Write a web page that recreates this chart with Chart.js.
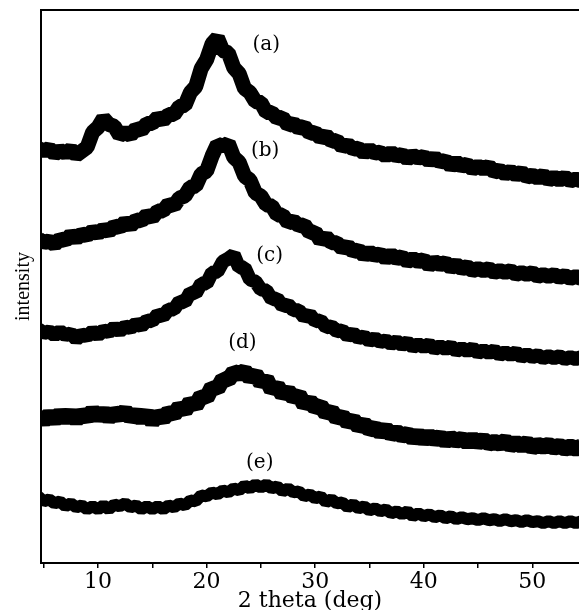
<!DOCTYPE html>
<html>
<head>
<meta charset="utf-8">
<script src="https://cdn.jsdelivr.net/npm/chart.js@4.4.1/dist/chart.umd.min.js"></script>
<style>
  html, body { margin: 0; padding: 0; background: #fff; }
  #wrap { width: 579px; height: 610px; position: relative; }
</style>
</head>
<body>
<div id="wrap"><canvas id="xrd-chart"></canvas></div>
<script>
// 2 theta sampling (deg)
const twoTheta = [
  4.5, 5, 5.5, 6, 6.5, 7, 7.5, 8, 8.5, 9,
  9.5, 10, 10.5, 11, 11.5, 12, 12.5, 13, 13.5, 14,
  14.5, 15, 15.5, 16, 16.5, 17, 17.5, 18, 18.5, 19,
  19.5, 20, 20.5, 21, 21.5, 22, 22.5, 23, 23.5, 24,
  24.5, 25, 25.5, 26, 26.5, 27, 27.5, 28, 28.5, 29,
  29.5, 30, 30.5, 31, 31.5, 32, 32.5, 33, 33.5, 34,
  34.5, 35, 35.5, 36, 36.5, 37, 37.5, 38, 38.5, 39,
  39.5, 40, 40.5, 41, 41.5, 42, 42.5, 43, 43.5, 44,
  44.5, 45, 45.5, 46, 46.5, 47, 47.5, 48, 48.5, 49,
  49.5, 50, 50.5, 51, 51.5, 52, 52.5, 53, 53.5, 54,
  54.5
];

// intensities (stacked, arbitrary units)
const curveA = [
  417, 414, 417, 411, 415, 412, 416, 410, 414, 418,
  433, 438, 447, 441, 439, 430, 433, 430, 437, 435,
  442, 442, 448, 445, 451, 451, 459, 460, 473, 479,
  497, 506, 522, 528, 515, 513, 498, 492, 477, 473,
  464, 463, 453, 453, 447, 448, 440, 442, 437, 439,
  432, 433, 427, 430, 424, 425, 418, 421, 416, 417,
  412, 416, 412, 413, 409, 413, 409, 411, 406, 410,
  407, 409, 404, 408, 403, 405, 399, 403, 399, 401,
  396, 399, 396, 399, 393, 395, 391, 394, 390, 393,
  388, 390, 387, 390, 385, 388, 385, 388, 384, 386,
  384
];
const curveB = [
  326, 322, 324, 320, 326, 324, 330, 326, 331, 329,
  334, 331, 336, 333, 339, 337, 343, 339, 345, 344,
  350, 347, 354, 354, 361, 359, 367, 369, 378, 379,
  391, 394, 409, 421, 419, 422, 408, 403, 389, 385,
  372, 369, 360, 359, 350, 350, 342, 344, 339, 340,
  332, 333, 324, 328, 322, 322, 316, 319, 313, 315,
  309, 313, 309, 311, 306, 310, 306, 308, 303, 306,
  303, 305, 299, 303, 300, 302, 297, 300, 296, 298,
  294, 296, 294, 296, 292, 294, 292, 294, 290, 292,
  290, 292, 288, 290, 288, 290, 287, 289, 286, 288,
  286
];
const curveC = [
  235, 231, 233, 229, 233, 229, 231, 225, 230, 228,
  233, 229, 234, 232, 237, 233, 238, 236, 241, 238,
  244, 243, 250, 248, 255, 255, 263, 262, 272, 271,
  281, 281, 292, 293, 303, 306, 310, 297, 297, 285,
  283, 275, 274, 265, 266, 258, 260, 254, 254, 247,
  250, 243, 244, 237, 238, 233, 234, 228, 231, 226,
  228, 223, 226, 222, 224, 220, 223, 219, 222, 217,
  220, 217, 220, 215, 218, 215, 218, 213, 216, 213,
  216, 211, 214, 211, 214, 209, 212, 209, 212, 207,
  210, 207, 209, 206, 208, 206, 208, 205, 207, 205,
  207
];
const curveD = [
  148, 143, 149, 144, 150, 145, 150, 144, 150, 146,
  153, 147, 152, 146, 151, 148, 153, 146, 150, 145,
  150, 142, 149, 145, 152, 149, 157, 153, 162, 158,
  168, 166, 177, 175, 185, 184, 192, 190, 193, 186,
  190, 181, 185, 174, 178, 169, 173, 166, 169, 159,
  163, 156, 158, 150, 153, 145, 148, 141, 144, 137,
  140, 134, 136, 131, 135, 129, 132, 128, 130, 125,
  129, 124, 128, 124, 127, 122, 126, 123, 125, 121,
  125, 121, 124, 120, 122, 120, 123, 118, 121, 118,
  121, 116, 119, 117, 119, 116, 118, 115, 117, 115,
  117
];
const curveE = [
  67, 62, 64, 60, 62, 57, 60, 56, 58, 54,
  57, 54, 58, 54, 59, 57, 60, 56, 58, 54,
  57, 54, 57, 54, 58, 56, 60, 58, 63, 62,
  68, 67, 71, 69, 73, 71, 75, 73, 78, 75,
  79, 76, 79, 75, 77, 72, 75, 71, 72, 67,
  69, 65, 67, 61, 64, 60, 61, 56, 59, 55,
  57, 53, 55, 52, 54, 50, 52, 49, 52, 47,
  50, 47, 49, 46, 48, 45, 47, 44, 46, 44,
  45, 43, 45, 43, 44, 42, 44, 42, 43, 41,
  43, 41, 42, 40, 42, 40, 42, 40, 42, 40,
  42
];

const curveNames = ['(a)', '(b)', '(c)', '(d)', '(e)'];
const labelTheta = [25.5, 25.4, 25.8, 23.3, 24.9];
const labelLevel = [521, 414, 309, 221, 101];
const xTickLabels = [10, 20, 30, 40, 50];

const curves = [curveA, curveB, curveC, curveD, curveE];
const lineWidths = [15, 15, 14, 16, 12];

const curveLabelPlugin = {
    id: 'curveLabelPlugin',
    afterDatasetsDraw(chart) {
        const { ctx, scales: { x, y } } = chart;
        ctx.save();
        ctx.font = '20px "DejaVu Serif"';
        ctx.fillStyle = '#000';
        ctx.textAlign = 'center';
        ctx.textBaseline = 'middle';
        curveNames.forEach((name, i) => {
            ctx.fillText(name, x.getPixelForValue(labelTheta[i]), y.getPixelForValue(labelLevel[i]));
        });
        ctx.restore();
    }
};

// top edge of the frame
const frameTopPlugin = {
    id: 'frameTopPlugin',
    afterDraw(chart) {
        const { ctx, chartArea: { left, right, top } } = chart;
        ctx.save();
        ctx.strokeStyle = '#000';
        ctx.lineWidth = 2;
        ctx.beginPath();
        ctx.moveTo(left - 1, top);
        ctx.lineTo(right, top);
        ctx.stroke();
        ctx.restore();
    }
};

const ctx = document.getElementById('xrd-chart').getContext('2d');

new Chart(ctx, {
    type: 'line',
    data: {
        datasets: curves.map((vals, i) => ({
            label: curveNames[i],
            data: vals.map((v, j) => ({ x: twoTheta[j], y: v })),
            borderColor: '#000',
            backgroundColor: '#000',
            borderWidth: lineWidths[i],
            borderJoinStyle: 'bevel',
            pointRadius: 0,
            tension: 0,
            fill: false,
            clip: 0
        }))
    },
    options: {
        responsive: true,
        maintainAspectRatio: false,
        animation: false,
        layout: { padding: { top: 10, right: 0, bottom: 0, left: 0 } },
        plugins: {
            legend: { display: false },
            tooltip: { enabled: false }
        },
        scales: {
            x: {
                type: 'linear',
                min: 4.75,
                max: 54.3,
                afterBuildTicks: axis => {
                    axis.ticks = axis.ticks.filter(t => t.value % 5 === 0);
                },
                ticks: {
                    stepSize: 5,
                    includeBounds: false,
                    autoSkip: false,
                    maxRotation: 0,
                    padding: 3,
                    color: '#000',
                    font: { family: 'DejaVu Serif', size: 22, lineHeight: 1 },
                    callback: v => xTickLabels.includes(v) ? String(v) : ''
                },
                grid: {
                    drawOnChartArea: false,
                    drawTicks: true,
                    tickLength: 5,
                    color: '#000',
                    lineWidth: 1.5
                },
                border: { display: true, color: '#000', width: 2 },
                title: {
                    display: true,
                    text: '2 theta (deg)',
                    color: '#000',
                    font: { family: 'DejaVu Serif', size: 22, lineHeight: 0.5 },
                    padding: { top: 0, bottom: 3 }
                }
            },
            y: {
                min: 0,
                max: 556,
                ticks: { display: false },
                grid: { display: false, drawTicks: false },
                border: { display: true, color: '#000', width: 2 },
                title: {
                    display: true,
                    text: 'intensity',
                    color: '#000',
                    font: { family: 'Liberation Serif', size: 20, lineHeight: 1 },
                    padding: { top: 14, bottom: 7 }
                }
            }
        }
    },
    plugins: [curveLabelPlugin, frameTopPlugin]
});
</script>
</body>
</html>
